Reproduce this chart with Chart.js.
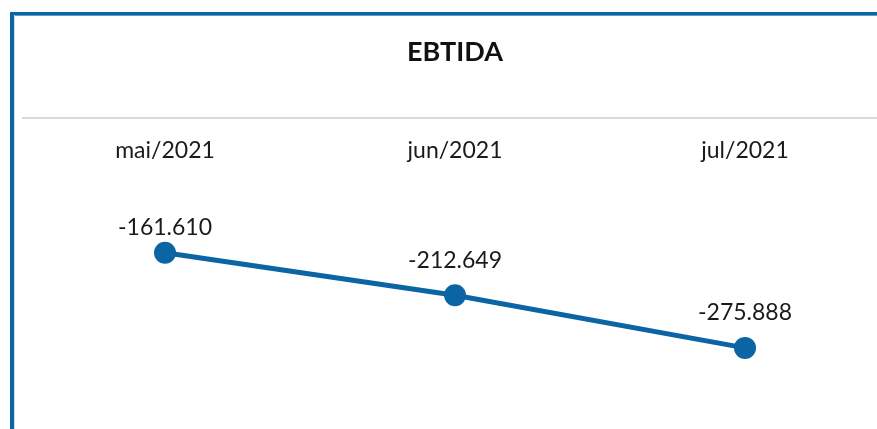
<!DOCTYPE html>
<html>
<head>
<meta charset="utf-8">
<script src="https://cdn.jsdelivr.net/npm/chart.js@4"></script>
<style>
  html,body{margin:0;padding:0;background:#fff;overflow:hidden;}
  body{width:877px;height:429px;position:relative;}
  #wrap{position:absolute;left:14px;top:0;width:876px;height:429px;}
  .frame-top{position:absolute;left:10px;top:12px;width:867px;height:3px;background:#0b66a3;}
  .frame-top2{position:absolute;left:14px;top:15px;width:863px;height:1px;background:#5b9cc8;}
  .frame-left{position:absolute;left:10px;top:12px;width:4px;height:417px;background:#0b66a3;}
  .frame-left2{position:absolute;left:14px;top:15px;width:1px;height:414px;background:#cfe1ee;}
  .sep{position:absolute;left:22px;top:117px;width:855px;height:2px;background:#d9d9d9;}
</style>
</head>
<body>
<div id="wrap"><canvas id="c" width="876" height="429"></canvas></div>
<div class="sep"></div>
<div class="frame-top"></div>
<div class="frame-top2"></div>
<div class="frame-left"></div>
<div class="frame-left2"></div>
<script>
var labels=['mai/2021','jun/2021','jul/2021'];
var ebtida=[-161610,-212649,-275888];

var fontFam="'Lato','Open Sans',sans-serif";
var blue='#0b64a3';

function fmt(v){
  var s=Math.abs(v).toString().replace(/\B(?=(\d{3})+(?!\d))/g,'.');
  return (v<0?'-':'')+s;
}

// value labels above points, kept inside the plot area
var valueLabels={
  id:'valueLabels',
  afterDatasetsDraw:function(chart){
    var ctx=chart.ctx;
    var meta=chart.getDatasetMeta(0);
    var minY=chart.chartArea.top+64;
    ctx.save();
    ctx.font='23px '+fontFam;
    ctx.fillStyle='#1a1a1a';
    ctx.textAlign='center';
    ctx.textBaseline='middle';
    meta.data.forEach(function(pt,i){
      ctx.fillText(fmt(ebtida[i]),pt.x,Math.max(pt.y-35,minY));
    });
    ctx.restore();
  }
};

new Chart(document.getElementById('c'),{
  type:'line',
  data:{labels:labels,datasets:[{
    data:ebtida,
    borderColor:blue,
    backgroundColor:blue,
    borderWidth:5,
    pointRadius:11,
    pointHoverRadius:11,
    pointBackgroundColor:blue,
    pointBorderWidth:0,
    tension:0
  }]},
  options:{
    responsive:false,
    animation:false,
    layout:{autoPadding:false,padding:{top:0,left:6,right:0,bottom:0}},
    plugins:{
      legend:{display:false},
      tooltip:{enabled:false},
      title:{display:true,text:'EBTIDA',color:'#111',
        font:{family:fontFam,size:27,weight:'bold'},
        padding:{top:36,bottom:68}}
    },
    scales:{
      x:{position:'top',offset:true,
        grid:{display:false,drawTicks:false},
        border:{display:false},
        ticks:{color:'#1a1a1a',font:{family:fontFam,size:23},padding:0}
      },
      y:{display:false,min:-373340,max:-54900}
    }
  },
  plugins:[valueLabels]
});
</script>
</body>
</html>
